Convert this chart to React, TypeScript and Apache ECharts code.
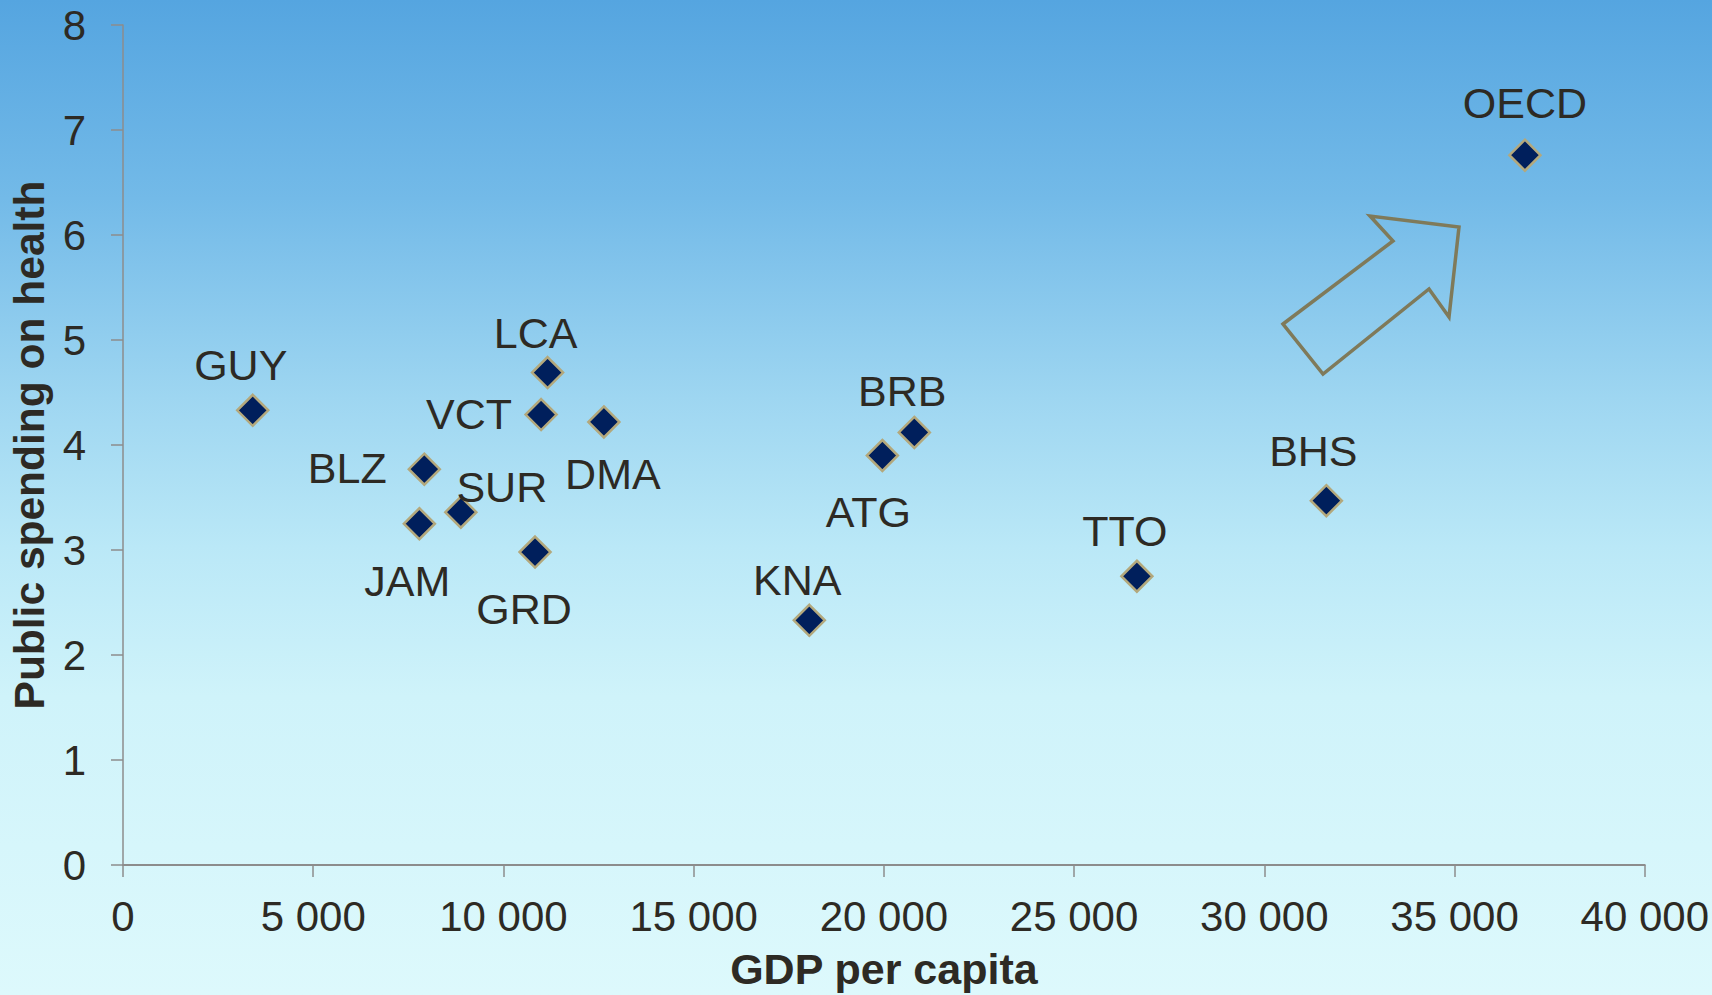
import React, { useEffect, useRef } from "react";
import * as echarts from "echarts";

const countries = ["GUY", "BLZ", "JAM", "SUR", "GRD", "VCT", "LCA", "DMA", "KNA", "ATG", "BRB", "TTO", "BHS", "OECD"];
const gdpPerCapita = [3410, 7920, 7790, 8880, 10830, 10990, 11160, 12640, 18040, 19960, 20800, 26650, 31630, 36850];
const healthSpending = [4.33, 3.77, 3.25, 3.36, 2.98, 4.29, 4.69, 4.22, 2.33, 3.90, 4.12, 2.75, 3.47, 6.76];
const xTicks = [0, 5000, 10000, 15000, 20000, 25000, 30000, 35000, 40000];
const yTicks = [0, 1, 2, 3, 4, 5, 6, 7, 8];

// label offsets (layout only)
const labelOffsets: [number, number][] = [
  [-12, -45], [-77, -1], [-12, 57], [41, -25], [-11, 57], [-72, -1], [-12, -40],
  [9, 52], [-12, -40], [-14, 56], [-12, -41], [-12, -45], [-13, -50], [0, -52],
];

const FONT = "'Liberation Sans', Arial, sans-serif";
const TEXT = "#2d2a24";

export default function App() {
  const ref = useRef<HTMLDivElement>(null);
  useEffect(() => {
    if (!ref.current) return;
    const chart = echarts.init(ref.current, null, { renderer: "svg" });
    const data = countries.map((c, i) => ({
      name: c,
      value: [gdpPerCapita[i], healthSpending[i]],
      label: { offset: labelOffsets[i] },
    }));
    chart.setOption({
      animation: false,
      backgroundColor: {
        type: "linear", x: 0, y: 0, x2: 0, y2: 1,
        colorStops: [
          { offset: 0, color: "#55a5e0" },
          { offset: 0.2, color: "#73bae8" },
          { offset: 0.4, color: "#9ed6f1" },
          { offset: 0.55, color: "#bae8f7" },
          { offset: 0.7, color: "#cff3fa" },
          { offset: 1, color: "#ddf9fc" },
        ],
      },
      textStyle: { fontFamily: FONT },
      grid: { left: 122, right: 67, top: 25, bottom: 130, containLabel: false },
      xAxis: {
        type: "value", min: 0, max: 40000, interval: 5000,
        name: "GDP per capita", nameLocation: "middle", nameGap: 82,
        nameTextStyle: { fontSize: 43, fontWeight: "bold", color: TEXT, fontFamily: FONT },
        splitLine: { show: false },
        axisLine: { show: true, lineStyle: { color: "#8c8c8c", width: 2 } },
        axisTick: { show: true, length: 12, lineStyle: { color: "#8c8c8c", width: 1.5 } },
        axisLabel: {
          fontSize: 42, color: TEXT, margin: 30, fontFamily: FONT,
          formatter: (v: number) => (xTicks.includes(v) ? String(v).replace(/\B(?=(\d{3})+(?!\d))/g, " ") : ""),
        },
      },
      yAxis: {
        type: "value", min: 0, max: 8, interval: 1,
        name: "Public spending on health", nameLocation: "middle", nameGap: 72, nameRotate: 90,
        nameTextStyle: { fontSize: 42.5, fontWeight: "bold", color: TEXT, fontFamily: FONT },
        splitLine: { show: false },
        axisLine: { show: true, lineStyle: { color: "#8c8c8c", width: 1.5 } },
        axisTick: { show: true, length: 12, lineStyle: { color: "#8c8c8c", width: 1.5 } },
        axisLabel: {
          fontSize: 42, color: TEXT, margin: 37, fontFamily: FONT,
          formatter: (v: number) => (yTicks.includes(v) ? String(v) : ""),
        },
      },
      series: [
        {
          type: "scatter",
          symbol: "diamond",
          symbolSize: 31,
          itemStyle: { color: "#001f5c", borderColor: "#b3a87c", borderWidth: 2.5, opacity: 1 },
          label: {
            show: true, position: "inside", formatter: "{b}",
            fontSize: 43, color: TEXT, fontFamily: FONT,
            align: "center", verticalAlign: "middle",
          },
          emphasis: { disabled: true },
          data,
        },
      ],
      graphic: [
        {
          type: "polygon",
          shape: {
            points: [
              [1283, 324], [1393, 241], [1370, 216], [1459, 227],
              [1449, 317], [1429, 289], [1323, 374],
            ],
          },
          style: { fill: "none", stroke: "#7f7a5a", lineWidth: 3.5 },
        },
      ],
    });
    return () => chart.dispose();
  }, []);
  return <div ref={ref} style={{ position: "fixed", left: 0, top: 0, width: 1712, height: 995 }} />;
}
